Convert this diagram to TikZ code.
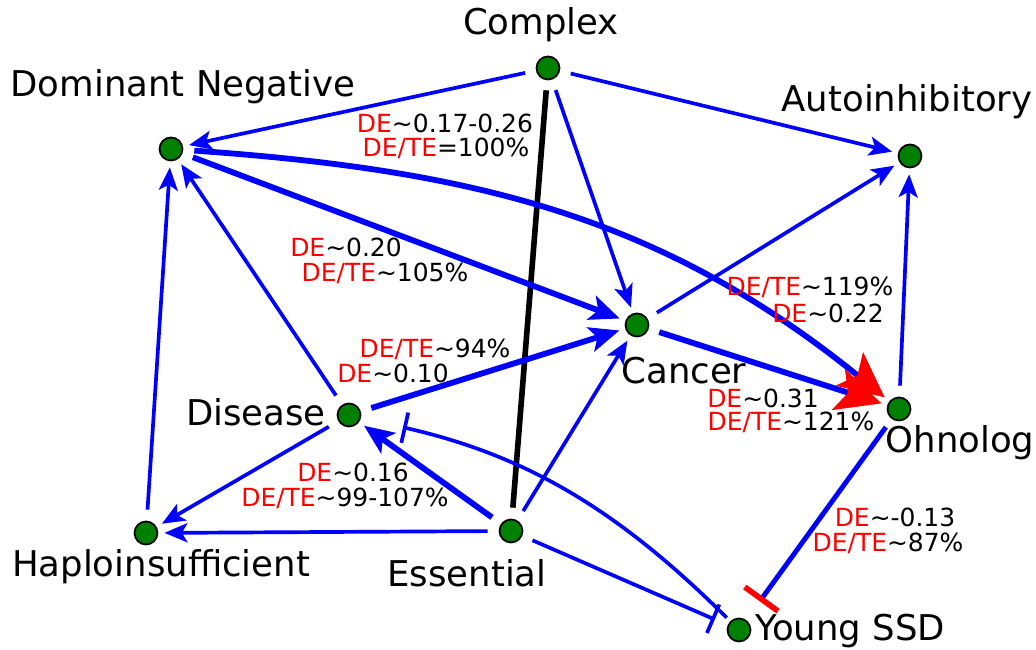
\documentclass[tikz,border=0pt]{standalone}
\usepackage{fontspec}
\setmainfont{DejaVu Sans}
\usetikzlibrary{arrows.meta}
\newcommand{\redlbl}[2]{\textcolor{red}{#1}#2}

\begin{document}
\begin{tikzpicture}[
    every node/.style={font=\fontsize{14.2}{16}\selectfont},
    gene/.style={circle, draw, line width=1pt, fill=green!50!black, minimum size=0.46cm, inner sep=0pt},
    genetext/.style={font=\fontsize{20.2}{23}\selectfont},
    link/.style={draw=blue, line width=2.1pt, shorten <=0.22cm, shorten >=0.12cm, -{Stealth[length=0.46cm, width=0.38cm, inset=0.11cm]}},
    heavy/.style={link, line width=3.3pt, -{Stealth[length=0.6cm, width=0.5cm, inset=0.14cm]}},
    redhead/.style={-{Stealth[length=0.9cm, width=0.85cm, inset=0.2cm, color=red]}},
    block/.style={draw=blue, line width=2.1pt, shorten <=0.22cm, -{Bar[width=0.62cm, line width=2.1pt]}}
]
    \useasboundingbox (0,0) rectangle (20.72,13);

    % genes
    \node[gene] (complex) at (10.96,11.64) {};
    \node[gene] (domneg) at (3.42,10.02) {};
    \node[gene] (autoinh) at (18.20,9.88) {};
    \node[gene] (cancer) at (12.74,6.50) {};
    \node[gene] (ohnolog) at (17.98,4.82) {};
    \node[gene] (disease) at (6.98,4.70) {};
    \node[gene] (haplo) at (2.92,2.34) {};
    \node[gene] (essential) at (10.22,2.38) {};
    \node[gene] (youngssd) at (14.78,0.40) {};

    \node[genetext] (complex-t) at (10.82,12.50) {Complex};
    \node[genetext] (domneg-t) at (3.66,11.26) {Dominant Negative};
    \node[genetext] (autoinh-t) at (18.14,10.96) {Autoinhibitory};
    \node[genetext] (cancer-t) at (13.68,5.58) {Cancer};
    \node[genetext] (ohnolog-t) at (19.20,4.14) {Ohnolog};
    \node[genetext] (disease-t) at (5.12,4.76) {Disease};
    \node[genetext] (haplo-t) at (3.22,1.66) {Haploinsufficient};
    \node[genetext] (essential-t) at (9.34,1.54) {Essential};
    \node[genetext] (youngssd-t) at (17.00,0.38) {Young SSD};

    % links
    \draw[link] (complex) -- (domneg);
    \draw[link] (complex) -- (autoinh);
    \draw[link] (complex) -- (cancer);
    \draw[black, line width=3.2pt, shorten <=0.2cm, shorten >=0.22cm] (complex) -- (essential);
    \draw[heavy] (domneg) -- (cancer);
    \draw[heavy, redhead] (domneg) to[out=-4, in=141] (ohnolog);
    \draw[heavy, redhead] (cancer) -- (ohnolog);
    \draw[link] (cancer) -- (autoinh);
    \draw[link] (ohnolog) -- (autoinh);
    \draw[heavy] (disease) -- (cancer);
    \draw[link] (disease) -- (domneg);
    \draw[link] (disease) -- (haplo);
    \draw[link] (haplo) -- (domneg);
    \draw[link] (essential) -- (haplo);
    \draw[heavy] (essential) -- (disease);
    \draw[link] (essential) -- (cancer);
    \draw[block, shorten >=0.28cm] (essential) -- (youngssd);
    \draw[block, shorten <=0.1cm, shorten >=0.86cm] (youngssd) to[bend right=16] (disease);
    \draw[block, line width=2.8pt, shorten <=0.2cm, shorten >=0.46cm, -{Bar[width=0.82cm, line width=3.2pt, color=red]}] (ohnolog) -- (youngssd);

    % link stats
    \node (s1a) at (8.90,10.54) {\redlbl{DE}{\textasciitilde0.17-0.26}};
    \node (s1b) at (8.92,10.04) {\redlbl{DE/TE}{=100\%}};
    \node (s2a) at (6.92,8.06) {\redlbl{DE}{\textasciitilde0.20}};
    \node (s2b) at (7.70,7.54) {\redlbl{DE/TE}{\textasciitilde105\%}};
    \node (s3a) at (8.70,6.02) {\redlbl{DE/TE}{\textasciitilde94\%}};
    \node (s3b) at (7.86,5.54) {\redlbl{DE}{\textasciitilde0.10}};
    \node (s4a) at (16.20,7.26) {\redlbl{DE/TE}{\textasciitilde119\%}};
    \node (s4b) at (16.56,6.74) {\redlbl{DE}{\textasciitilde0.22}};
    \node (s5a) at (15.26,5.04) {\redlbl{DE}{\textasciitilde0.31}};
    \node (s5b) at (15.82,4.56) {\redlbl{DE/TE}{\textasciitilde121\%}};
    \node (s6a) at (7.06,3.56) {\redlbl{DE}{\textasciitilde0.16}};
    \node (s6b) at (6.90,3.04) {\redlbl{DE/TE}{\textasciitilde99-107\%}};
    \node (s7a) at (17.90,2.66) {\redlbl{DE}{\textasciitilde-0.13}};
    \node (s7b) at (17.76,2.14) {\redlbl{DE/TE}{\textasciitilde87\%}};
\end{tikzpicture}
\end{document}
